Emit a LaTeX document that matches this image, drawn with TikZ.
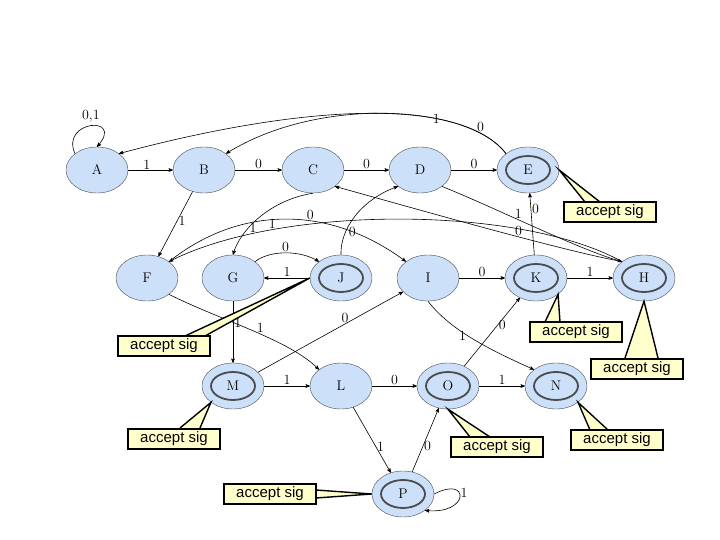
\documentclass[tikz,border=0pt]{standalone}
\usepackage{fontspec}
\usetikzlibrary{arrows,shapes.geometric}
\definecolor{stfill}{RGB}{204,224,250}
\definecolor{sigfill}{RGB}{255,255,204}
\begin{document}
\begin{tikzpicture}[x=1pt,y=-1pt,->,>=stealth',semithick,
    every node/.style={font=\fontsize{14}{16}\selectfont},
    st/.style={ellipse,draw=black!70,thin,fill=stfill,minimum width=62pt,minimum height=46pt,inner sep=0pt},
    acc/.style={st,path picture={\draw[line width=1.8pt,-] (path picture bounding box.center) ellipse (22pt and 14pt);}},
    lbl/.style={inner sep=1pt},
    sig/.style={draw=black,line width=1.8pt,fill=sigfill,font=\fontspec{Liberation Sans}\fontsize{15}{17}\selectfont,inner sep=2pt,minimum height=20pt,minimum width=92pt}]
  \useasboundingbox (0,0) rectangle (720,540);

  \node[st]  (A) at (97,170)  {A};
  \node[st]  (B) at (204,170) {B};
  \node[st]  (C) at (313,170) {C};
  \node[st]  (D) at (420,170) {D};
  \node[acc] (E) at (528,170) {E};
  \node[st]  (F) at (147,278) {F};
  \node[st]  (G) at (233,278) {G};
  \node[acc] (J) at (341,278) {J};
  \node[st]  (I) at (428,278) {I};
  \node[acc] (K) at (536,278) {K};
  \node[acc] (H) at (644,278) {H};
  \node[acc] (M) at (233,386) {M};
  \node[st]  (L) at (341,386) {L};
  \node[acc] (O) at (448,386) {O};
  \node[acc] (N) at (556,386) {N};
  \node[acc] (P) at (403,494) {P};

  % straight edges
  \draw (A) -- node[lbl,above left=-1pt] {1} (B);
  \draw (B) -- node[lbl,above] {0} (C);
  \draw (C) -- node[lbl,above] {0} (D);
  \draw (D) -- node[lbl,above] {0} (E);
  \draw (B) -- node[lbl,right,pos=0.45] {1} (F);
  \draw (I) -- node[lbl,above] {0} (K);
  \draw (K) -- node[lbl,above] {1} (H);
  \draw (K) -- node[lbl,right,pos=0.75] {0} (E);
  \draw (J) -- node[lbl,above] {1} (G);
  \draw (G) -- node[lbl,right,pos=0.35] {1} (M);
  \draw (M) -- node[lbl,above] {1} (L);
  \draw (L) -- node[lbl,above] {0} (O);
  \draw (O) -- node[lbl,above] {1} (N);
  \draw (M) -- node[lbl,above,pos=0.6] {0} (I);
  \draw (O) -- node[lbl,right,pos=0.6] {0} (K);
  \draw (L) -- node[lbl,right,pos=0.6] {1} (P);
  \draw (P) -- node[lbl,right,pos=0.4] {0} (O);

  % curved edges
  \draw (A.north west) .. controls (60,120) and (125,115) .. (A.north) node[lbl,pos=0.5,above=2pt] {0,1};
  \draw (P.east) .. controls (470,475) and (470,515) .. (P.south east) node[lbl,pos=0.4,right] {1};
  \draw (E.north west) .. controls (460,95) and (300,105) .. (A.north east) node[lbl,pos=0.3] {1};
  \draw (E.north west) .. controls (470,105) and (320,95) .. (B.north east) node[lbl,pos=0.16,above] {0};
  \draw (C.south) .. controls (270,200) and (240,230) .. (G.north) node[lbl,pos=0.65,right] {1};
  \draw (F.south east) .. controls (220,320) and (290,340) .. (L.north west) node[lbl,pos=0.55,above] {1};
  \draw (J.north) .. controls (340,230) and (360,200) .. (D.south west) node[lbl,pos=0.3,right=2pt] {0};
  \draw (G.north east) .. controls (270,250) and (300,250) .. (J.north west) node[lbl,pos=0.5,above] {0};
  \draw (F.north east) .. controls (240,205) and (330,205) .. (I.north west) node[lbl,pos=0.6,above] {0};
  \draw (H.north west) .. controls (520,205) and (280,205) .. (F.north east) node[lbl,pos=0.75,above] {1};
  \draw (H.north west) .. controls (560,250) and (420,210) .. (C.south east) node[lbl,pos=0.4,above] {0};
  \draw (D.south east) .. controls (500,210) and (580,250) .. (H.north west) node[lbl,pos=0.4,above] {1};
  \draw (I.south) .. controls (450,330) and (490,350) .. (N.north west) node[lbl,pos=0.45,left] {1};

  % accept sig callouts
  \begin{scope}[-,draw=black,fill=sigfill,line width=1.4pt]
    \filldraw (585,202) -- (E.east) -- (600,202);
    \filldraw (185,336) -- (J.west) -- (205,336);
    \filldraw (545,322) -- (K.south east) -- (560,322);
    \filldraw (625,358) -- (H.south) -- (658,358);
    \filldraw (180,428) -- (M.south west) -- (200,428);
    \filldraw (490,437) -- (O.south) -- (470,437);
    \filldraw (590,430) -- (N.south east) -- (608,430);
    \filldraw (316,490) -- (P.west) -- (316,498);
  \end{scope}
  \node[sig] (sE) at (610,212) {accept sig};
  \node[sig] (sJ) at (164,346) {accept sig};
  \node[sig] (sK) at (576,332) {accept sig};
  \node[sig] (sH) at (637,369) {accept sig};
  \node[sig] (sM) at (174,439) {accept sig};
  \node[sig] (sO) at (497,447) {accept sig};
  \node[sig] (sN) at (617,440) {accept sig};
  \node[sig] (sP) at (270,494) {accept sig};
\end{tikzpicture}
\end{document}
